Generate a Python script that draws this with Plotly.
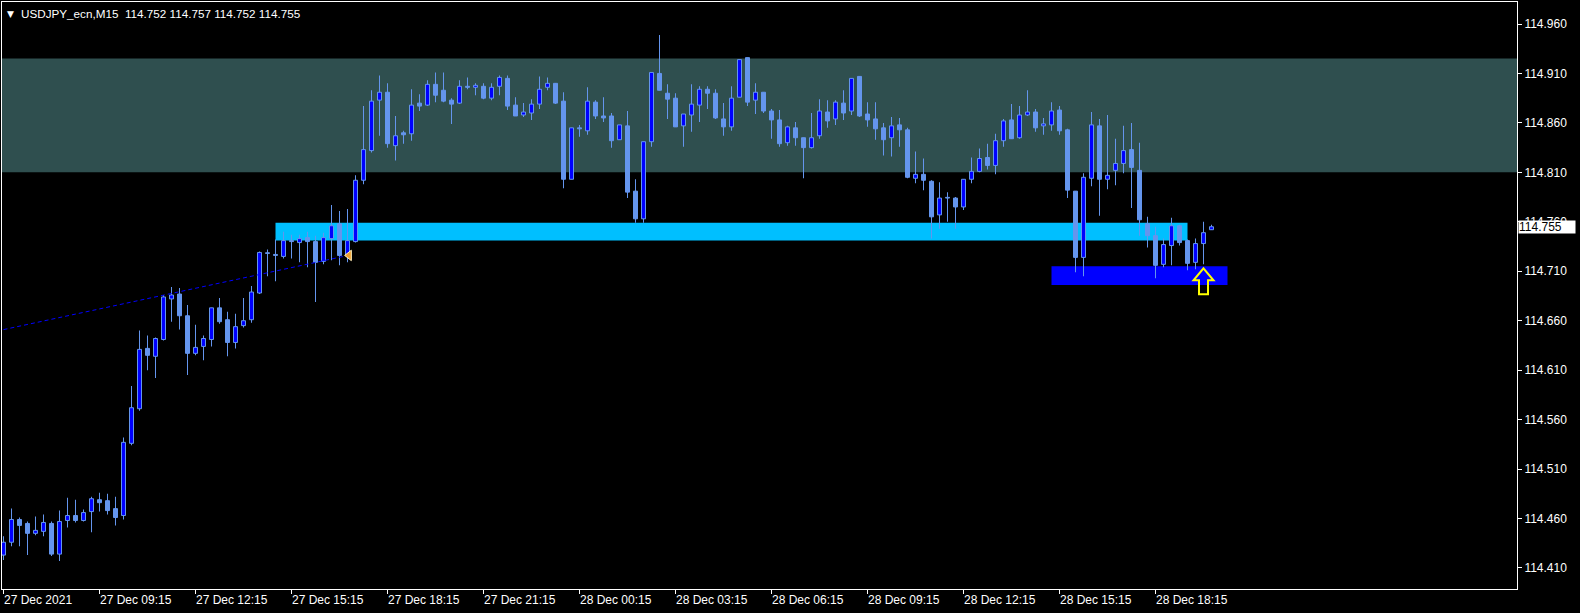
import plotly.graph_objects as go

# ---------------- data (M15 candles, index 0..151) ----------------
OPEN = [114.423,114.436,114.459,114.455,114.445,114.447,114.455,114.424,114.458,114.463,
        114.458,114.467,114.479,114.478,114.470,114.463,114.536,114.571,114.632,114.624,
        114.641,114.682,114.687,114.665,114.627,114.634,114.641,114.673,114.661,114.638,
        114.655,114.661,114.688,114.728,114.727,114.725,114.741,114.739,114.744,114.740,
        114.720,114.743,114.758,114.726,114.740,114.802,114.832,114.883,114.891,114.837,
        114.850,114.849,114.880,114.878,114.899,114.893,114.883,114.880,114.897,114.896,
        114.897,114.885,114.897,114.905,114.878,114.868,114.870,114.879,114.896,114.900,
        114.882,114.803,114.855,114.852,114.881,114.867,114.867,114.843,114.857,114.791,
        114.763,114.841,114.910,114.890,114.885,114.857,114.868,114.878,114.894,114.890,
        114.864,114.856,114.886,114.926,114.883,114.891,114.872,114.863,114.840,114.855,
        114.845,114.835,114.847,114.871,114.864,114.880,114.872,114.907,114.869,114.864,
        114.855,114.845,114.858,114.853,114.804,114.808,114.801,114.767,114.784,114.784,
        114.775,114.803,114.811,114.825,114.817,114.842,114.863,114.845,114.868,114.871,
        114.857,114.858,114.873,114.853,114.791,114.724,114.804,114.857,114.803,114.812,
        114.819,114.833,114.812,114.758,114.746,114.717,114.736,114.756,114.741,114.719,
        114.738,114.752]
HIGH = [114.442,114.470,114.461,114.457,114.462,114.464,114.457,114.468,114.481,114.479,
        114.469,114.482,114.486,114.485,114.482,114.542,114.594,114.650,114.645,114.643,
        114.686,114.694,114.693,114.676,114.656,114.645,114.673,114.683,114.669,114.667,
        114.683,114.695,114.730,114.732,114.742,114.750,114.747,114.747,114.750,114.746,
        114.749,114.777,114.771,114.773,114.807,114.877,114.893,114.908,114.900,114.867,
        114.852,114.894,114.889,114.903,114.911,114.911,114.885,114.903,114.906,114.900,
        114.900,114.900,114.908,114.908,114.886,114.880,114.884,114.907,114.906,114.900,
        114.891,114.855,114.858,114.896,114.883,114.886,114.870,114.858,114.872,114.803,
        114.841,114.911,114.949,114.899,114.890,114.869,114.899,114.897,114.897,114.894,
        114.880,114.897,114.924,114.926,114.900,114.891,114.874,114.873,114.857,114.861,
        114.845,114.870,114.884,114.883,114.883,114.893,114.905,114.907,114.881,114.881,
        114.860,114.866,114.865,114.855,114.831,114.824,114.802,114.800,114.790,114.785,
        114.803,114.825,114.834,114.839,114.849,114.864,114.879,114.877,114.893,114.874,
        114.865,114.881,114.877,114.854,114.791,114.809,114.871,114.864,114.868,114.844,
        114.857,114.860,114.840,114.765,114.755,114.743,114.764,114.757,114.742,114.743,
        114.760,114.757]
LOW = [114.418,114.432,114.432,114.423,114.443,114.442,114.422,114.417,114.451,114.456,
       114.457,114.446,114.467,114.464,114.453,114.459,114.534,114.569,114.610,114.602,
       114.640,114.659,114.651,114.605,114.625,114.620,114.634,114.657,114.624,114.632,
       114.653,114.658,114.687,114.705,114.700,114.723,114.723,114.719,114.714,114.679,
       114.717,114.721,114.716,114.719,114.739,114.798,114.830,114.847,114.835,114.822,
       114.839,114.842,114.872,114.877,114.881,114.881,114.859,114.879,114.894,114.888,
       114.884,114.883,114.888,114.873,114.867,114.866,114.863,114.874,114.893,114.879,
       114.794,114.803,114.846,114.848,114.864,114.861,114.835,114.843,114.784,114.759,
       114.759,114.836,114.893,114.864,114.856,114.836,114.851,114.861,114.874,114.864,
       114.847,114.852,114.886,114.877,114.869,114.870,114.844,114.836,114.837,114.837,
       114.804,114.834,114.844,114.855,114.858,114.863,114.868,114.866,114.856,114.843,
       114.827,114.826,114.836,114.804,114.799,114.792,114.743,114.753,114.760,114.753,
       114.772,114.799,114.810,114.813,114.808,114.836,114.844,114.844,114.867,114.851,
       114.848,114.852,114.848,114.784,114.709,114.705,114.796,114.766,114.793,114.797,
       114.809,114.774,114.746,114.734,114.703,114.714,114.716,114.736,114.711,114.712,
       114.717,114.752]
CLOSE = [114.436,114.459,114.453,114.445,114.448,114.456,114.424,114.457,114.463,114.458,
         114.466,114.480,114.476,114.468,114.461,114.537,114.572,114.631,114.625,114.642,
         114.684,114.686,114.665,114.627,114.633,114.642,114.673,114.659,114.638,114.654,
         114.660,114.689,114.729,114.728,114.726,114.741,114.740,114.743,114.740,114.719,
         114.744,114.756,114.726,114.741,114.802,114.833,114.882,114.891,114.839,114.847,
         114.848,114.878,114.877,114.899,114.888,114.882,114.879,114.897,114.896,114.898,
         114.885,114.896,114.906,114.877,114.867,114.871,114.879,114.894,114.900,114.880,
         114.803,114.855,114.854,114.882,114.867,114.865,114.842,114.858,114.790,114.763,
         114.841,114.911,114.893,114.884,114.856,114.869,114.879,114.894,114.890,114.865,
         114.856,114.885,114.924,114.881,114.891,114.872,114.863,114.839,114.856,114.845,
         114.835,114.845,114.872,114.862,114.881,114.870,114.905,114.867,114.863,114.854,
         114.843,114.857,114.853,114.805,114.808,114.802,114.765,114.784,114.784,114.775,
         114.803,114.811,114.824,114.817,114.842,114.862,114.844,114.868,114.871,114.855,
         114.859,114.872,114.852,114.792,114.724,114.805,114.858,114.803,114.807,114.819,
         114.832,114.815,114.762,114.746,114.716,114.737,114.756,114.739,114.718,114.738,
         114.749,114.755]

TICK_INDEX = [0, 12, 24, 36, 48, 60, 72, 84, 96, 108, 120, 132, 144]
TICK_LABELS = ["27 Dec 2021", "27 Dec 09:15", "27 Dec 12:15", "27 Dec 15:15",
               "27 Dec 18:15", "27 Dec 21:15", "28 Dec 00:15", "28 Dec 03:15",
               "28 Dec 06:15", "28 Dec 09:15", "28 Dec 12:15", "28 Dec 15:15",
               "28 Dec 18:15"]
Y_TICKS = [114.410, 114.460, 114.510, 114.560, 114.610, 114.660, 114.710,
           114.760, 114.810, 114.860, 114.910, 114.960]

SYMBOL = "USDJPY_ecn,M15"
BID = 114.755

# chart objects
ZONE_TOP = (114.810, 114.925)
LEVEL_BAND = (34, 148, 114.741, 114.759)
SUPPORT_BOX = (131, 153, 114.696, 114.715)
TREND_X = [0, 42.5]
TREND_Y = [114.651, 114.725]
ARROW_X, ARROW_TIP = 150, 114.713
MARK_X, MARK_Y = 43.2, 114.726

# ---------------- styling ----------------
BULL_FILL = "#0000FF"
BEAR_FILL = "#6495ED"
EDGE = "#6495ED"
FONT = "Liberation Sans"
PX_PER_BAR = 8.0
PX_PER_PRICE = 989.0

n = len(OPEN)
idx = list(range(n))

fig = go.Figure()

# wicks (thin bars, drawn first so bodies cover them)
fig.add_trace(go.Bar(
    x=idx, y=[h - l for h, l in zip(HIGH, LOW)], base=LOW, width=1 / PX_PER_BAR,
    marker=dict(color=EDGE, line=dict(width=0)), hoverinfo="skip", showlegend=False))

# bodies
body_base = [min(o, c) for o, c in zip(OPEN, CLOSE)]
body_h = [max(abs(c - o), 0.0007) for o, c in zip(OPEN, CLOSE)]
body_col = [BULL_FILL if c > o else BEAR_FILL for o, c in zip(OPEN, CLOSE)]
fig.add_trace(go.Bar(
    x=idx, y=body_h, base=body_base, width=0.5,
    marker=dict(color=body_col, line=dict(color=EDGE, width=1)),
    hoverinfo="skip", showlegend=False))

# dashed trend line
fig.add_trace(go.Scatter(x=TREND_X, y=TREND_Y, mode="lines",
                         line=dict(color="#0000FF", width=1, dash="4px,3px"),
                         hoverinfo="skip", showlegend=False))
# small orange marker
fig.add_trace(go.Scatter(x=[MARK_X], y=[MARK_Y], mode="markers",
                         marker=dict(symbol="triangle-left", size=9, color="#F0A030",
                                     line=dict(color="#FFF0C0", width=1)),
                         hoverinfo="skip", showlegend=False))

shapes = [
    dict(type="rect", xref="paper", x0=0, x1=1, yref="y", y0=ZONE_TOP[0], y1=ZONE_TOP[1],
         fillcolor="#2F4F4F", line=dict(width=0), layer="below"),
    dict(type="rect", xref="x", x0=LEVEL_BAND[0], x1=LEVEL_BAND[1], yref="y",
         y0=LEVEL_BAND[2], y1=LEVEL_BAND[3], fillcolor="#00BFFF", line=dict(width=0), layer="below"),
    dict(type="line", xref="paper", x0=0, x1=1, yref="y", y0=BID, y1=BID,
         line=dict(color="#000000", width=1), layer="below"),
    dict(type="rect", xref="x", x0=SUPPORT_BOX[0], x1=SUPPORT_BOX[1], yref="y",
         y0=SUPPORT_BOX[2], y1=SUPPORT_BOX[3], fillcolor="#0000FF", line=dict(width=0), layer="below"),
]
arrow_px = [(0, 0), (10, 12), (4.5, 12), (4.5, 26), (-4.5, 26), (-4.5, 12), (-10, 12)]
path = ""
for k, (dx, dy) in enumerate(arrow_px):
    path += ("M" if k == 0 else "L") + f"{ARROW_X + dx / PX_PER_BAR},{ARROW_TIP - dy / PX_PER_PRICE}"
path += "Z"
shapes.append(dict(type="path", xref="x", yref="y", path=path, line=dict(color="#FFFF00", width=2),
                   fillcolor="rgba(0,0,0,0)", layer="above"))

annotations = []
for ti, tl in zip(TICK_INDEX, TICK_LABELS):
    annotations.append(dict(x=ti, xref="x", y=0, yref="paper", text=tl, showarrow=False,
                            xanchor="left", yanchor="top", xshift=-2, yshift=-2,
                            font=dict(family=FONT, size=12, color="white")))
annotations.append(dict(x=1, xref="paper", y=BID, yref="y", text=f"{BID:.3f}", showarrow=False,
                        xanchor="left", yanchor="middle", xshift=1, bgcolor="white",
                        width=56, height=12, align="left", borderpad=0,
                        font=dict(family=FONT, size=12, color="black")))
annotations.append(dict(x=0, xref="paper", y=1, yref="paper", text="▼", showarrow=False,
                        xanchor="left", yanchor="top", xshift=3, yshift=-5,
                        font=dict(family="DejaVu Sans", size=9, color="white")))
hdr = SYMBOL + "\u00a0\u00a0" + " ".join(f"{v:.3f}" for v in (OPEN[-1], HIGH[-1], LOW[-1], CLOSE[-1]))
annotations.append(dict(x=0, xref="paper", y=1, yref="paper", text=hdr, showarrow=False,
                        xanchor="left", yanchor="top", xshift=17, yshift=-3,
                        font=dict(family=FONT, size=11.7, color="white")))

W, H = 1580, 613
ML, MR, MT, MB = 2, 63, 2, 24
plot_w = W - ML - MR
plot_h = H - MT - MB
x0 = -0.1875
y_top = 114.960 + (24 - MT) / PX_PER_PRICE
y_bot = y_top - plot_h / PX_PER_PRICE

fig.update_layout(
    width=W, height=H, margin=dict(l=ML, r=MR, t=MT, b=MB, autoexpand=False),
    paper_bgcolor="black", plot_bgcolor="black",
    barmode="overlay", showlegend=False,
    shapes=shapes, annotations=annotations,
    font=dict(family=FONT, size=12, color="white"),
    xaxis=dict(range=[x0, x0 + plot_w / PX_PER_BAR], showgrid=False, zeroline=False,
               showline=True, mirror=True, linecolor="white", linewidth=1,
               tickmode="array", tickvals=TICK_INDEX, ticks="outside", ticklen=4,
               tickcolor="white", showticklabels=False, fixedrange=True, automargin=False),
    yaxis=dict(range=[y_bot, y_top], side="right", showgrid=False, zeroline=False,
               showline=True, mirror=True, linecolor="white", linewidth=1,
               tickmode="array", tickvals=Y_TICKS, ticktext=[f"{v:.3f}" for v in Y_TICKS],
               ticks="outside", ticklen=4, tickcolor="white", automargin=False,
               tickfont=dict(family=FONT, size=12, color="white"), fixedrange=True),
)

fig.write_html("out.html", config={"displayModeBar": False, "staticPlot": True},
               post_script="document.body.style.margin='0';document.body.style.background='black';document.body.style.overflow='hidden';")
